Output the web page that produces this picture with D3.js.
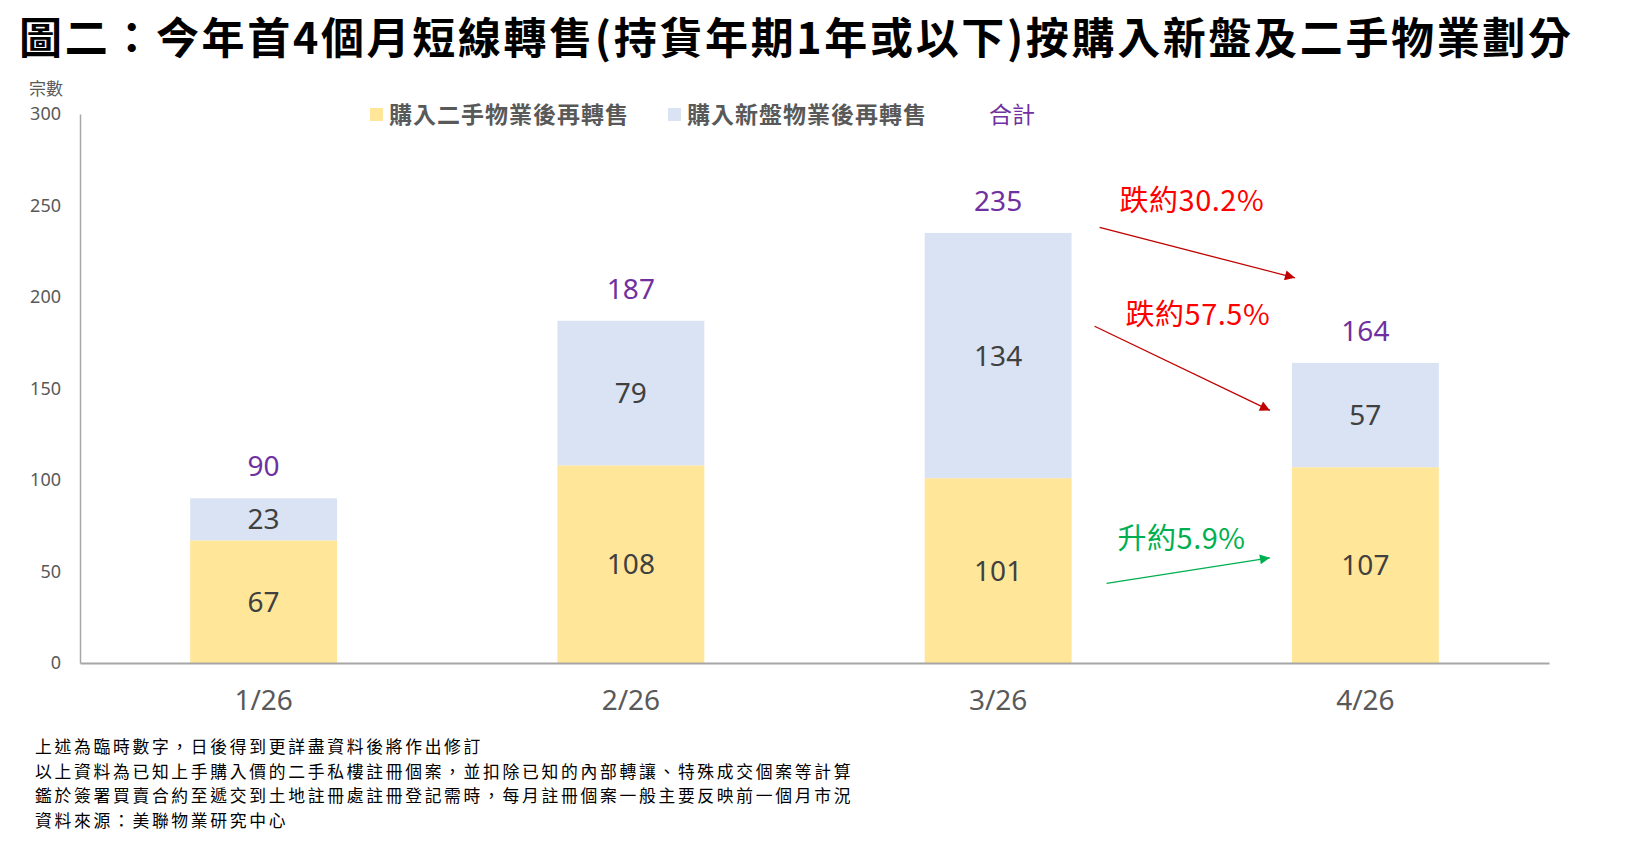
<!DOCTYPE html>
<html>
<head>
<meta charset="utf-8">
<script src="https://cdn.jsdelivr.net/npm/d3@7"></script>
<style>
  body { margin: 0; background: #fff; }
  svg { display: block; font-family: "Noto Sans", "Noto Sans CJK TC", sans-serif; }
</style>
</head>
<body>
<svg id="chart" width="1648" height="843"></svg>
<script>
// chart values
const months = ["1/26", "2/26", "3/26", "4/26"];
const secondHand = [67, 108, 101, 107];   // 購入二手物業後再轉售
const newFlats = [23, 79, 134, 57];       // 購入新盤物業後再轉售
const totals = [90, 187, 235, 164];       // 合計
const yTicks = [0, 50, 100, 150, 200, 250, 300];
const seriesNames = ["購入二手物業後再轉售", "購入新盤物業後再轉售", "合計"];
const changeLabels = ["跌約30.2%", "跌約57.5%", "升約5.9%"];
const notes = [
	"上述為臨時數字，日後得到更詳盡資料後將作出修訂",
	"以上資料為已知上手購入價的二手私樓註冊個案，並扣除已知的內部轉讓、特殊成交個案等計算",
	"鑑於簽署買賣合約至遞交到土地註冊處註冊登記需時，每月註冊個案一般主要反映前一個月市況",
	"資料來源：美聯物業研究中心"
];

const colors = { second: "#FFE699", fresh: "#DAE3F3", total: "#7030A0" };
const cjk = '"Noto Sans CJK TC", "Noto Sans", sans-serif';

var margin = { top: 114, right: 101, bottom: 180, left: 80 },
	width = 1648 - margin.left - margin.right,
	height = 843 - margin.top - margin.bottom;

const svg = d3.select("#chart");

// title
svg.append("text")
	.attr("x", 19).attr("y", 54)
	.attr("font-family", cjk)
	.attr("font-weight", "bold")
	.attr("font-size", 43)
	.attr("textLength", 1552)
	.attr("lengthAdjust", "spacing")
	.attr("fill", "#000")
	.text("圖二：今年首4個月短線轉售(持貨年期1年或以下)按購入新盤及二手物業劃分");

const g = svg.append("g")
	.attr("transform", `translate(${margin.left}, ${margin.top})`);

const x = d3.scaleBand()
	.domain(months)
	.range([0, width + 2])
	.paddingInner(0.6)
	.paddingOuter(0.3);

const y = d3.scaleLinear()
	.domain([0, 300])
	.range([height, 0]);

// y axis
const yAxis = g.append("g")
	.call(d3.axisLeft(y).tickValues(yTicks).tickSize(0).tickSizeOuter(0).tickPadding(19));
yAxis.select(".domain").attr("stroke", "#A6A6A6").attr("stroke-width", 1.5);
yAxis.selectAll("text")
	.attr("font-size", 18)
	.attr("fill", "#595959")
	.style("font-family", '"Noto Sans", sans-serif');

svg.append("text")
	.attr("x", 29).attr("y", 95)
	.attr("font-family", cjk)
	.attr("font-size", 17)
	.attr("fill", "#595959")
	.text("宗數");

// stacked bars
const rows = months.map((m, i) => ({ month: m, second: secondHand[i], fresh: newFlats[i] }));
const stacked = d3.stack().keys(["second", "fresh"])(rows);

g.selectAll("g.layer")
	.data(stacked)
	.join("g")
	.attr("class", "layer")
	.attr("fill", d => colors[d.key])
	.selectAll("rect")
	.data(d => d)
	.join("rect")
	.attr("x", d => x(d.data.month))
	.attr("y", d => y(d[1]))
	.attr("width", x.bandwidth())
	.attr("height", d => y(d[0]) - y(d[1]));

// x axis (drawn over bars)
const xAxis = g.append("g")
	.attr("transform", `translate(0, ${height})`)
	.call(d3.axisBottom(x).tickSize(0).tickSizeOuter(0).tickPadding(27));
xAxis.select(".domain").attr("stroke", "#A6A6A6").attr("stroke-width", 2);
xAxis.selectAll("text")
	.attr("font-size", 28)
	.attr("fill", "#595959")
	.style("font-family", '"Noto Sans", sans-serif');

// segment labels
stacked.forEach(layer => {
	g.append("g")
		.selectAll("text")
		.data(layer)
		.join("text")
		.attr("x", d => x(d.data.month) + x.bandwidth() / 2)
		.attr("y", d => (y(d[0]) + y(d[1])) / 2)
		.attr("dy", "0.36em")
		.attr("text-anchor", "middle")
		.attr("font-size", 28)
		.attr("fill", "#404040")
		.text(d => d[1] - d[0]);
});

// totals
g.append("g")
	.selectAll("text")
	.data(totals)
	.join("text")
	.attr("x", (d, i) => x(months[i]) + x.bandwidth() / 2)
	.attr("y", d => y(d) - 22)
	.attr("text-anchor", "middle")
	.attr("font-size", 28)
	.attr("fill", colors.total)
	.text(d => d);

// legend
const legend = svg.append("g");
const legendItems = [
	{ name: seriesNames[0], color: colors.second, x: 370 },
	{ name: seriesNames[1], color: colors.fresh, x: 668 }
];
legendItems.forEach(item => {
	legend.append("rect")
		.attr("x", item.x).attr("y", 108)
		.attr("width", 13).attr("height", 13)
		.attr("fill", item.color);
	legend.append("text")
		.attr("x", item.x + 19).attr("y", 123)
		.attr("font-family", cjk)
		.attr("font-size", 23)
		.attr("letter-spacing", 1)
		.attr("font-weight", "bold")
		.attr("fill", "#595959")
		.text(item.name);
});
legend.append("text")
	.attr("x", 989).attr("y", 123)
	.attr("font-family", cjk)
	.attr("font-size", 23)
	.attr("fill", colors.total)
	.text(seriesNames[2]);

// change annotations between 3/26 and 4/26
const defs = svg.append("defs");
[["red", "#C00000"], ["green", "#00B050"]].forEach(([id, c]) => {
	defs.append("marker")
		.attr("id", "head-" + id)
		.attr("viewBox", "0 0 10 10")
		.attr("refX", 10).attr("refY", 5)
		.attr("markerUnits", "userSpaceOnUse")
		.attr("markerWidth", 14).attr("markerHeight", 10)
		.attr("orient", "auto")
		.append("path")
		.attr("d", "M0,0L10,5L0,10Z")
		.attr("fill", c);
});

const gapStart = x(months[2]) + x.bandwidth();
const gapEnd = x(months[3]);
const changes = [
	{ text: changeLabels[0], color: "#FF0000", head: "red", tx: 48, ty: 247, x1: 28, v1: 238, x2: 3, v2: 210.5 },
	{ text: changeLabels[1], color: "#FF0000", head: "red", tx: 54, ty: 184.5, x1: 23, v1: 184, x2: -22, v2: 138 },
	{ text: changeLabels[2], color: "#00B050", head: "green", tx: 46, ty: 62.5, x1: 35, v1: 43.5, x2: -22, v2: 57.5 }
];
changes.forEach(c => {
	g.append("text")
		.attr("x", gapStart + c.tx)
		.attr("y", y(c.ty))
		.attr("font-family", cjk)
		.attr("font-size", 29)
		.attr("letter-spacing", 0.5)
		.attr("fill", c.color)
		.text(c.text);
	g.append("line")
		.attr("x1", gapStart + c.x1).attr("y1", y(c.v1))
		.attr("x2", gapEnd + c.x2).attr("y2", y(c.v2))
		.attr("stroke", c.head === "red" ? "#C00000" : "#00B050")
		.attr("stroke-width", 1.3)
		.attr("marker-end", `url(#head-${c.head})`);
});

// footnotes
svg.append("g")
	.selectAll("text")
	.data(notes)
	.join("text")
	.attr("x", 35)
	.attr("y", (d, i) => 753 + i * 24.5)
	.attr("font-family", cjk)
	.attr("font-size", 16.8)
	.attr("letter-spacing", 2.7)
	.attr("fill", "#000")
	.text(d => d);
</script>
</body>
</html>
